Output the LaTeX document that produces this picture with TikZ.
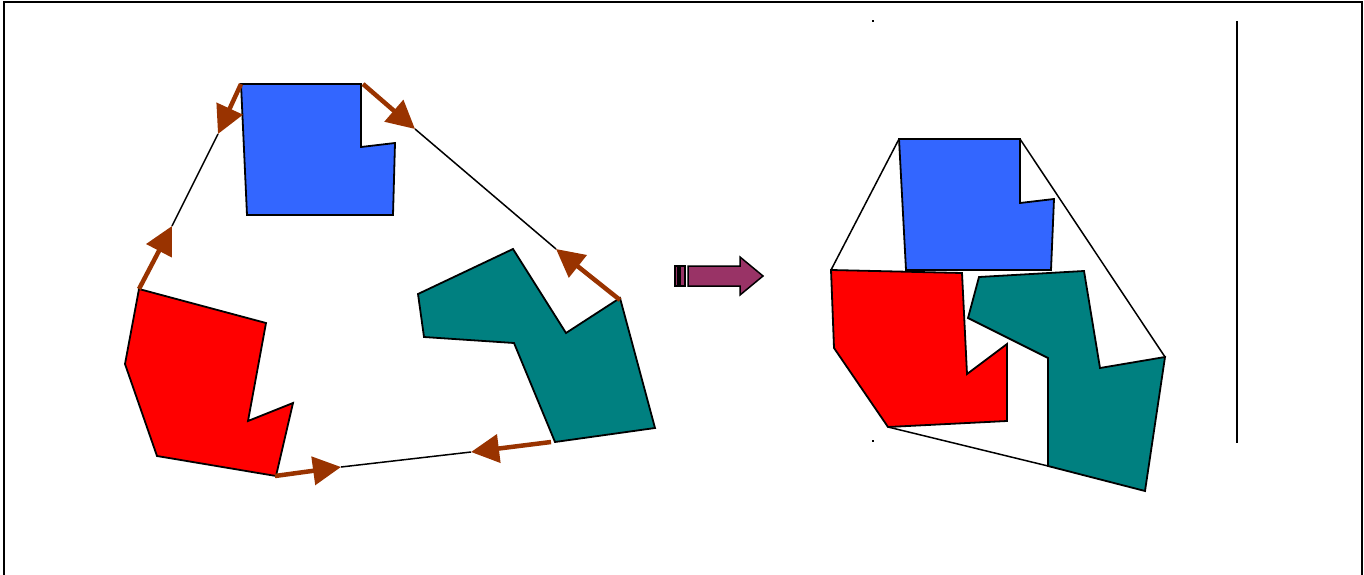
\documentclass[tikz,border=0pt]{standalone}
\usepackage{tikz}
\usetikzlibrary{arrows.meta}
\definecolor{PBlue}{RGB}{51,102,255}
\definecolor{PRed}{RGB}{255,0,0}
\definecolor{PTeal}{RGB}{0,128,128}
\definecolor{PBrown}{RGB}{153,51,0}
\definecolor{PPlum}{RGB}{153,51,102}

\begin{document}
\begin{tikzpicture}[
    x=1pt, y=-1pt,
    piece/.style={
      draw,
      line width=1.8pt,
      line join=miter
    },
    hull/.style={
      draw,
      line width=1.5pt
    },
    harrow/.style={
      draw=PBrown,
      line width=4.5pt,
      -{Triangle[length=28pt,width=28pt]}
    },
    frame/.style={
      draw,
      line width=1.8pt
    }
  ]
    \useasboundingbox (0,0) rectangle (1364,575);
    \draw[frame] (4,575) -- (4,2) -- (1362,2) -- (1362,575);

    % pieces before
    \draw[piece, fill=PBlue] (241,84) -- (361,84) -- (361,147) -- (395,143) -- (393,215) -- (247,215) -- cycle;
    \draw[piece, fill=PRed] (139,289) -- (266,323) -- (248,421) -- (293,403) -- (276,476) -- (157,456) -- (125,364) -- cycle;
    \draw[piece, fill=PTeal] (418,294) -- (513,249) -- (566,333) -- (620,298) -- (655,428) -- (555,442) -- (514,343) -- (424,337) -- cycle;

    \coordinate (bluetl) at (241,84);
    \coordinate (bluetr) at (363,84);
    \coordinate (redtop) at (139,289);
    \coordinate (redbot) at (275,476);
    \coordinate (tealtop) at (620,300);
    \coordinate (tealbot) at (551,442);
    \coordinate (tipa) at (218,134);
    \coordinate (tipb) at (415,129);
    \coordinate (tipc) at (172,226);
    \coordinate (tipd) at (341,467);
    \coordinate (tipe) at (556,249);
    \coordinate (tipf) at (471,452);

    \draw[hull] (tipa) -- (tipc);
    \draw[hull] (tipb) -- (tipe);
    \draw[hull] (tipd) -- (tipf);

    \draw[harrow] (bluetl) -- (tipa);
    \draw[harrow] (bluetr) -- (tipb);
    \draw[harrow] (redtop) -- (tipc);
    \draw[harrow] (redbot) -- (tipd);
    \draw[harrow] (tealtop) -- (tipe);
    \draw[harrow] (tealbot) -- (tipf);

    % striped arrow
    \draw[fill=PPlum, line width=1.5pt] (675,266) rectangle (678,286);
    \draw[fill=PPlum, line width=1.5pt] (680,266) rectangle (685,286);
    \draw[fill=PPlum, line width=1.5pt] (688,266) -- (740,266) -- (740,257) -- (763,276) -- (740,295) -- (740,286) -- (688,286) -- cycle;

    % pieces after
    \draw[hull] (899,139) -- (831,270);
    \draw[hull] (1020,139) -- (1165,357);
    \draw[hull] (888,427) -- (1048,466);
    \draw[piece, fill=PBlue] (899,139) -- (1020,139) -- (1020,203) -- (1054,199) -- (1051,270) -- (906,270) -- cycle;
    \draw[piece, fill=PRed] (831,270) -- (962,273) -- (967,374) -- (1007,344) -- (1007,421) -- (888,427) -- (834,348) -- cycle;
    \draw[piece, fill=PTeal] (979,277) -- (1084,271) -- (1100,368) -- (1165,357) -- (1145,491) -- (1048,466) -- (1048,358) -- (968,318) -- cycle;

    \fill (872,20) rectangle (874,22);
    \fill (872,440) rectangle (874,442);
    \draw[line width=1.8pt] (1237,21) -- (1237,443);
  \end{tikzpicture}
\end{document}
